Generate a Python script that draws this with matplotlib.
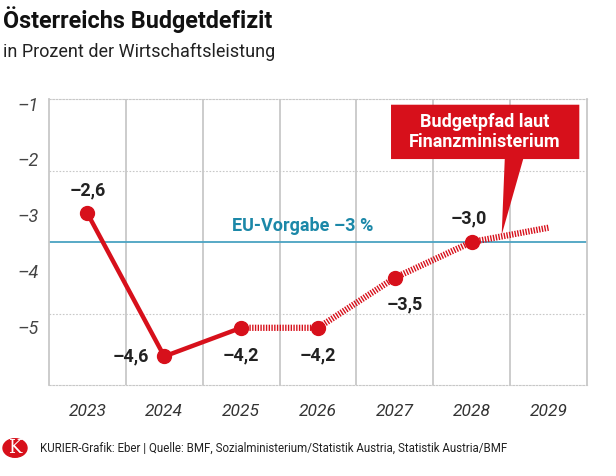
import matplotlib
matplotlib.use('Agg')
import matplotlib.pyplot as plt
from matplotlib.patches import Polygon, Circle

plt.rcParams['font.family'] = ['Roboto', 'DejaVu Sans']

# Daten
years = [2023, 2024, 2025, 2026, 2027, 2028, 2029]
deficit = [-2.6, -4.6, -4.2, -4.2, -3.5, -3.0, -2.8]
labels = ['–2,6', '–4,6', '–4,2', '–4,2', '–3,5', '–3,0', None]
eu_limit = -3.0
ytick_text = ['–1', '–2', '–3', '–4', '–5']

red = '#d7101b'
blue_line = '#4aa3c2'
blue_text = '#1c88a8'
grid_col = '#c8c8c8'

fig = plt.figure(figsize=(6.16, 4.76), dpi=100)
ax = fig.add_axes([49/616, 1-385/476, 538/616, 286/476])

ax.set_xlim(2022.5, 2029.5)
ax.set_ylim(-5, -1)

# Gitter
for x in [2023.5, 2024.5, 2025.5, 2026.5, 2027.5, 2028.5]:
    ax.axvline(x, color=grid_col, lw=1.3, zorder=1)
for y in [-2, -4]:
    ax.axhline(y, color=grid_col, lw=0.8, ls=(0, (1.5, 1.5)), zorder=1)
for s in ['left', 'right']:
    ax.spines[s].set_color(grid_col)
    ax.spines[s].set_linewidth(1.3)
for s in ['top', 'bottom']:
    ax.spines[s].set_color(grid_col)
    ax.spines[s].set_linewidth(0.8)
    ax.spines[s].set_linestyle((0, (1.5, 1.5)))

# EU-Vorgabe
ax.axhline(eu_limit, color=blue_line, lw=1.3, zorder=2)
ax.text(2025.8, eu_limit + 0.22, 'EU-Vorgabe –3 %', color=blue_text, fontsize=13,
        fontweight='bold', ha='center', va='center')

# Linie: Ist-Werte durchgezogen, Budgetpfad schraffiert
ax.plot(years[:3], deficit[:3], color=red, lw=3.2, solid_capstyle='round', zorder=3)
ax.plot(years[2:], deficit[2:], color=red, lw=4.5, ls=(0, (0.22, 0.22)),
        dash_capstyle='butt', zorder=3)
ax.plot(years[:6], deficit[:6], 'o', color=red, ms=10, zorder=4)

# Beschriftungen der Werte
offsets = [(0, 0.32, 'center'), (-0.2, 0, 'right'), (0, -0.38, 'center'),
           (0, -0.38, 'center'), (0.13, -0.38, 'center'), (-0.04, 0.33, 'center')]
for yr, v, lab, (dx, dy, ha) in zip(years, deficit, labels, offsets):
    if lab is None:
        continue
    ax.text(yr + dx, v + dy, lab, fontsize=13, fontweight='bold', color='#222222',
            ha=ha, va='center', zorder=5)

# Achsenbeschriftungen
ax.set_xticks(years)
ax.set_xticklabels([str(y) for y in years], fontsize=12.5, style='italic', color='#333333')
ax.tick_params(axis='x', length=0, pad=14)
ax.set_yticks([-1.07, -1.84, -2.62, -3.41, -4.19])
ax.set_yticklabels(ytick_text, fontsize=13, style='italic', color='#444444')
ax.tick_params(axis='y', length=0, pad=7)

# Sprechblase Budgetpfad
bx0, bx1, by0, by1 = 2026.95, 2029.4, -1.08, -1.84
bubble = Polygon([(bx0, by0), (bx1, by0), (bx1, by1), (2028.67, by1),
                  (2028.39, -2.9), (2028.43, by1), (bx0, by1)],
                 closed=True, facecolor=red, edgecolor='none', clip_on=False, zorder=6)
ax.add_patch(bubble)
ax.text((bx0 + bx1) / 2, (by0 + by1) / 2, 'Budgetpfad laut\nFinanzministerium',
        color='white', fontsize=13, fontweight='bold', ha='center', va='center',
        linespacing=1.15, zorder=7)

# Titel
fig.text(3/616, 1-20/476, 'Österreichs Budgetdefizit', fontsize=16.8, fontweight='bold',
         color='#111111', va='center')
fig.text(3/616, 1-52/476, 'in Prozent der Wirtschaftsleistung', fontsize=13,
         color='#222222', va='center')

# Fusszeile
logo = Circle((15/616, 1-448/476), 12/616, transform=fig.transFigure, color=red)
fig.patches.append(logo)
fig.text(15/616, 1-448/476, 'K', color='white', fontsize=13, family='DejaVu Serif',
         ha='center', va='center')
fig.text(40/616, 1-448/476, 'KURIER-Grafik: Eber | Quelle: BMF, Sozialministerium/Statistik Austria, Statistik Austria/BMF',
         fontsize=8.3, color='#222222', va='center')

fig.savefig('out.png', dpi=100)
